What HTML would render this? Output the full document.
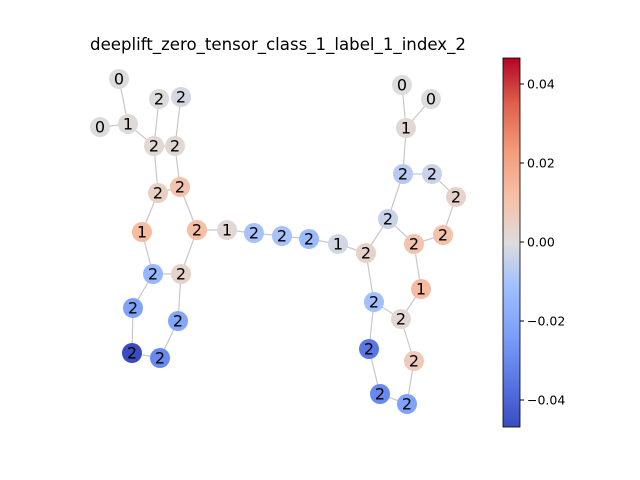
<!DOCTYPE html>
<html><head><meta charset="utf-8"><style>
body{margin:0;background:#fff;font-family:"DejaVu Sans",sans-serif}
svg{display:block}
</style></head><body>
<svg id="c" width="640" height="480" font-family="DejaVu Sans, sans-serif">
<defs><linearGradient id="cw" x1="0" y1="1" x2="0" y2="0">
<stop offset="0" stop-color="#3b4cc0"/><stop offset="0.125" stop-color="#5977e3"/>
<stop offset="0.25" stop-color="#7b9ff9"/><stop offset="0.375" stop-color="#9ebeff"/>
<stop offset="0.5" stop-color="#dddcdc"/><stop offset="0.625" stop-color="#f6bfa6"/>
<stop offset="0.75" stop-color="#f49a7b"/><stop offset="0.875" stop-color="#de614d"/>
<stop offset="1" stop-color="#b40426"/></linearGradient></defs>
<text x="278" y="50" text-anchor="middle" font-size="16.6">deeplift_zero_tensor_class_1_label_1_index_2</text>
<g id="edges"></g>
<g id="nodes"></g>
<rect x="503" y="58" width="17" height="369" fill="url(#cw)" stroke="#000" stroke-width="0.8"/>
<g id="cbticks"></g>
</svg>
<script>
const nodeX=[119,100,128,159,181,154,175,158,180,142,197,227,254,282,309,338,366,153,181,133,178,132,160,402,431,406,403,432,456,388,414,443,421,374,401,369,414,380,407];
const nodeY=[79,127,124,99,97,146,146,193,187,232,230,230,233,236,239,244,253,274,274,308,321,353,358,85,99,128,174,174,197,219,244,235,289,302,319,349,361,394,404];
const nodeLabels=["0","0","1","2","2","2","2","2","2","1","2","1","2","2","2","1","2","2","2","2","2","2","2","0","0","1","2","2","2","2","2","2","1","2","2","2","2","2","2"];
const nodeValues=[0,0,0.001,0,-0.002,0.002,0.002,0.005,0.01,0.013,0.012,0.002,-0.01,-0.01,-0.013,-0.002,0.004,-0.014,0.004,-0.022,-0.021,-0.047,-0.03,0,0,0.002,-0.007,-0.004,0.004,-0.004,0.01,0.011,0.013,-0.011,0.002,-0.035,0.007,-0.03,-0.022];
const edgeList=[[0,2],[1,2],[2,5],[3,5],[4,6],[5,6],[5,7],[6,8],[7,8],[7,9],[9,17],[17,18],[18,10],[10,8],[10,11],[11,12],[12,13],[13,14],[14,15],[15,16],[17,19],[19,21],[21,22],[22,20],[20,18],[23,25],[24,25],[25,26],[26,27],[27,28],[28,31],[31,30],[30,29],[29,26],[29,16],[16,33],[30,32],[32,34],[34,33],[34,36],[36,38],[38,37],[37,35],[35,33]];
const cbTicks=[0.04,0.02,0,-0.02,-0.04];
const vmin=-0.047,vmax=0.047;
const stops=[[59,76,192],[89,119,227],[123,159,249],[158,190,255],[221,220,220],[246,191,166],[244,154,123],[222,97,77],[180,4,38]];
function col(v){let t=(v-vmin)/(vmax-vmin);t=Math.max(0,Math.min(1,t))*8;const i=Math.min(7,Math.floor(t)),f=t-i;const a=stops[i],b=stops[i+1];return `rgb(${a.map((x,k)=>Math.round(x+(b[k]-x)*f)).join(',')})`;}
function cy(v){return 242-v*3950;}
const NS="http://www.w3.org/2000/svg";
const eg=document.getElementById('edges'),ng=document.getElementById('nodes'),tg=document.getElementById('cbticks');
edgeList.forEach(([a,b])=>{const l=document.createElementNS(NS,'line');
l.setAttribute('x1',nodeX[a]);l.setAttribute('y1',nodeY[a]);l.setAttribute('x2',nodeX[b]);l.setAttribute('y2',nodeY[b]);
l.setAttribute('stroke','#c8c8c8');l.setAttribute('stroke-width','1.2');


eg.appendChild(l);});
nodeX.forEach((x,i)=>{const c=document.createElementNS(NS,'circle');
c.setAttribute('cx',x);c.setAttribute('cy',nodeY[i]);c.setAttribute('r',10);c.setAttribute('fill',col(nodeValues[i]));


ng.appendChild(c);
const t=document.createElementNS(NS,'text');t.setAttribute('x',x);t.setAttribute('y',nodeY[i]+5.5);t.setAttribute('text-anchor','middle');t.setAttribute('font-size','16');t.textContent=nodeLabels[i];


ng.appendChild(t);});
cbTicks.forEach(v=>{const y=cy(v);const l=document.createElementNS(NS,'line');
l.setAttribute('x1',520);l.setAttribute('x2',524);l.setAttribute('y1',y);l.setAttribute('y2',y);l.setAttribute('stroke','#000');


tg.appendChild(l);
const t=document.createElementNS(NS,'text');t.setAttribute('x',527);t.setAttribute('y',y+4.5);t.setAttribute('font-size','12.5');
t.textContent=v===0?'0.00':(v<0?'\u2212'+Math.abs(v).toFixed(2):v.toFixed(2));


tg.appendChild(t);});
</script>
</body></html>
